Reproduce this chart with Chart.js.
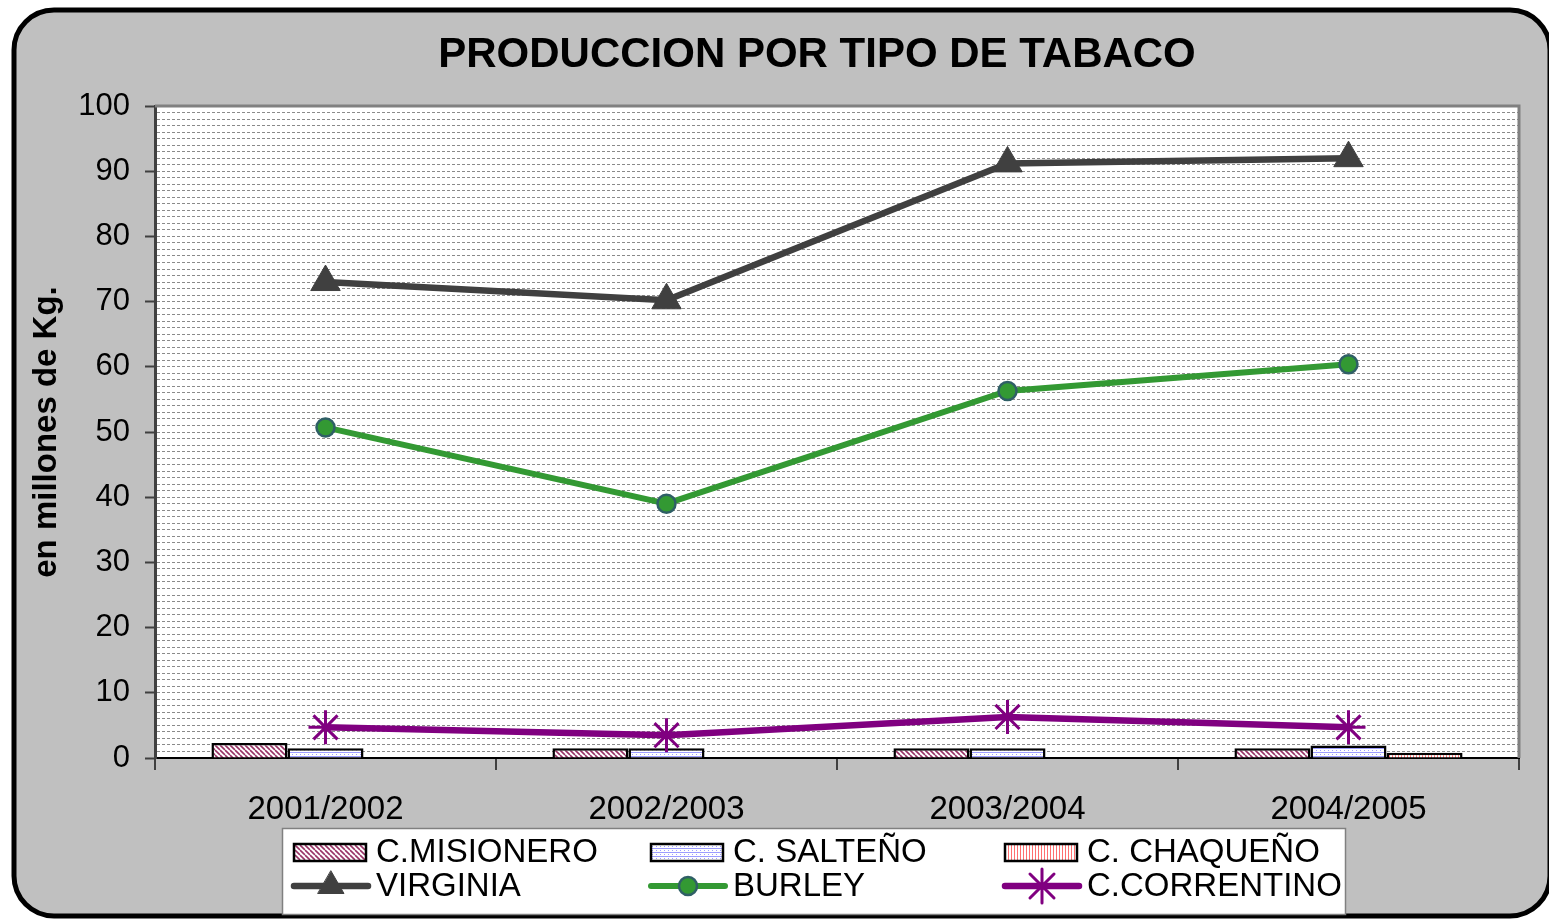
<!DOCTYPE html>
<html>
<head>
<meta charset="utf-8">
<title>Produccion por tipo de tabaco</title>
<script src="https://cdn.jsdelivr.net/npm/chart.js@4/dist/chart.umd.min.js"></script>
<style>
  html, body { margin: 0; padding: 0; background: #fff; }
  #wrap { width: 1549px; height: 920px; }
</style>
</head>
<body>
<div id="wrap"><canvas id="chart" width="1549" height="920"></canvas></div>
<script>
const categories = ['2001/2002', '2002/2003', '2003/2004', '2004/2005']
const yTickLabels = [0, 10, 20, 30, 40, 50, 60, 70, 80, 90, 100]

// bars (millones de Kg.)
const misionero = [2.3, 1.5, 1.5, 1.5]
const salteno = [1.5, 1.5, 1.5, 1.9]
const chaqueno = [null, null, null, 0.8]

// lines
const virginia = [73.0, 70.2, 91.2, 92.0]
const burley = [50.7, 39.0, 56.3, 60.4]
const correntino = [4.7, 3.5, 6.3, 4.7]

// small tile patterns like the old excel fills
function makePattern(kind) {
  const c = document.createElement('canvas')
  const g = c.getContext('2d')
  if (kind === 'diag') {
    c.width = c.height = 5
    g.fillStyle = '#fff'
    g.fillRect(0, 0, 5, 5)
    g.strokeStyle = '#993366'
    g.lineWidth = 1.6
    for (const k of [-5, 0, 5]) {
      g.beginPath()
      g.moveTo(k, 0)
      g.lineTo(k + 5, 5)
      g.stroke()
    }
  } else if (kind === 'grid') {
    c.width = c.height = 4
    g.fillStyle = '#fff'
    g.fillRect(0, 0, 4, 4)
    g.fillStyle = '#9c9cff'
    g.fillRect(0, 0, 4, 1)
    g.fillRect(0, 0, 1, 1)
    g.fillRect(0, 2, 1, 1)
  } else {
    c.width = 3; c.height = 3
    g.fillStyle = '#fff'
    g.fillRect(0, 0, 3, 3)
    g.fillStyle = '#ff7070'
    g.fillRect(0, 0, 1, 3)
  }
  return g.createPattern(c, 'repeat')
}

const fills = {
  misionero: makePattern('diag'),
  salteno: makePattern('grid'),
  chaqueno: makePattern('vert')
}

// rounded grey frame + white plot area
const framePlugin = {
  id: 'frame',
  beforeDraw(chart) {
    const { ctx, chartArea: a } = chart
    ctx.save()
    ctx.fillStyle = '#fff'
    ctx.fillRect(0, 0, chart.width, chart.height)
    ctx.beginPath()
    ctx.roundRect(14, 10, 1536, 906, 40)
    ctx.fillStyle = '#c0c0c0'
    ctx.fill()
    ctx.lineWidth = 5
    ctx.strokeStyle = '#000'
    ctx.stroke()
    ctx.fillStyle = '#fff'
    ctx.fillRect(a.left, a.top, a.right - a.left, a.bottom - a.top)
    ctx.fillStyle = '#000'
    ctx.font = 'bold 42px "Liberation Sans", Arial, sans-serif'
    ctx.textAlign = 'center'
    ctx.textBaseline = 'middle'
    ctx.fillText('PRODUCCION POR TIPO DE TABACO', 817, 55)
    ctx.restore()
  },
  afterDatasetsDraw(chart) {
    const { ctx, chartArea: a } = chart
    ctx.save()
    ctx.strokeStyle = '#808080'
    ctx.lineWidth = 3
    ctx.beginPath()
    ctx.moveTo(a.left, a.top)
    ctx.lineTo(a.right, a.top)
    ctx.lineTo(a.right, a.bottom)
    ctx.stroke()
    ctx.restore()
  }
}

// legend in 3 columns x 2 rows, drawn from the datasets
const legendPlugin = {
  id: 'boxLegend',
  afterDraw(chart) {
    const { ctx } = chart
    const cols = [294, 651, 1005]
    const rows = [852, 886]
    ctx.save()
    ctx.fillStyle = '#fff'
    ctx.fillRect(282, 828, 1064, 86)
    ctx.strokeStyle = '#808080'
    ctx.lineWidth = 1.5
    ctx.strokeRect(282.5, 828.5, 1063, 86)
    ctx.font = '33px "Liberation Sans", Arial, sans-serif'
    ctx.textBaseline = 'middle'
    chart.data.datasets.forEach((ds, i) => {
      const col = i % 3
      const row = Math.floor(i / 3)
      const x = cols[col]
      const y = rows[row]
      if (ds.type === 'line') {
        ctx.strokeStyle = ds.borderColor
        ctx.lineWidth = ds.borderWidth
        ctx.lineCap = 'round'
        ctx.beginPath()
        ctx.moveTo(x, y)
        ctx.lineTo(x + 74, y)
        ctx.stroke()
        ctx.fillStyle = ds.pointBackgroundColor
        ctx.strokeStyle = ds.pointBorderColor
        ctx.lineWidth = ds.pointBorderWidth
        Chart.helpers.drawPoint(ctx, {
          pointStyle: ds.pointStyle,
          radius: ds.pointStyle === 'triangle' ? 15 : ds.pointRadius,
          borderWidth: ds.pointBorderWidth
        }, x + 37, y)
      } else {
        ctx.fillStyle = ds.backgroundColor
        ctx.fillRect(x, y - 8, 72, 17)
        ctx.strokeStyle = '#000'
        ctx.lineWidth = 2.5
        ctx.strokeRect(x, y - 8, 72, 17)
      }
      ctx.fillStyle = '#000'
      ctx.fillText(ds.label, x + 82, y + 1)
    })
    ctx.restore()
  }
}

const barStyle = { borderColor: '#000', borderWidth: 2.5, order: 1, categoryPercentage: 0.669, barPercentage: 1 }

new Chart(document.getElementById('chart'), {
  type: 'bar',
  data: {
    labels: categories,
    datasets: [
      { label: 'C.MISIONERO', data: misionero, backgroundColor: fills.misionero, ...barStyle },
      { label: 'C. SALTEÑO', data: salteno, backgroundColor: fills.salteno, ...barStyle },
      { label: 'C. CHAQUEÑO', data: chaqueno, backgroundColor: fills.chaqueno, ...barStyle },
      {
        type: 'line', label: 'VIRGINIA', data: virginia, order: 0,
        borderColor: '#404040', borderWidth: 6.5, tension: 0,
        pointStyle: 'triangle', pointRadius: 17, pointBorderWidth: 1,
        pointBackgroundColor: '#404040', pointBorderColor: '#404040'
      },
      {
        type: 'line', label: 'BURLEY', data: burley, order: 0,
        borderColor: '#339933', borderWidth: 6, tension: 0,
        pointStyle: 'circle', pointRadius: 9, pointBorderWidth: 2.5,
        pointBackgroundColor: '#339933', pointBorderColor: '#2f5f66'
      },
      {
        type: 'line', label: 'C.CORRENTINO', data: correntino, order: 0,
        borderColor: '#800080', borderWidth: 6.5, tension: 0,
        pointStyle: 'star', pointRadius: 17, pointBorderWidth: 3,
        pointBackgroundColor: '#800080', pointBorderColor: '#800080'
      }
    ]
  },
  options: {
    responsive: false,
    animation: false,
    devicePixelRatio: 1,
    layout: { padding: { left: 0, right: 30, top: 106, bottom: 92 } },
    plugins: {
      legend: { display: false },
      title: { display: false },
      tooltip: { enabled: false }
    },
    scales: {
      x: {
        offset: true,
        grid: {
          offset: true,
          drawOnChartArea: false,
          tickLength: 12,
          color: '#404040',
          lineWidth: 2
        },
        border: { color: '#000', width: 2 },
        ticks: {
          color: '#000',
          padding: 20,
          font: { size: 33, family: '"Liberation Sans", Arial, sans-serif' }
        },
        afterFit(scale) { scale.height = 70 }
      },
      y: {
        min: 0,
        max: 100,
        grid: {
          color: '#8a8a8a',
          lineWidth: 1,
          tickLength: 10,
          tickWidth: 2,
          tickColor: (c) => (c.tick && yTickLabels.includes(c.tick.value)) ? '#404040' : 'rgba(0,0,0,0)'
        },
        border: { color: '#404040', width: 3, dash: [3, 2] },
        ticks: {
          stepSize: 1,
          autoSkip: false,
          color: '#000',
          padding: 15,
          font: { size: 31, family: '"Liberation Sans", Arial, sans-serif' },
          callback: (v) => yTickLabels.includes(v) ? String(v) : ''
        },
        title: {
          display: true,
          text: 'en millones de Kg.',
          color: '#000',
          padding: { top: 27, bottom: 0 },
          font: { size: 33, weight: 'bold', family: '"Liberation Sans", Arial, sans-serif' }
        },
        afterFit(scale) { scale.width = 155 }
      }
    }
  },
  plugins: [framePlugin, legendPlugin]
})
</script>
</body>
</html>
